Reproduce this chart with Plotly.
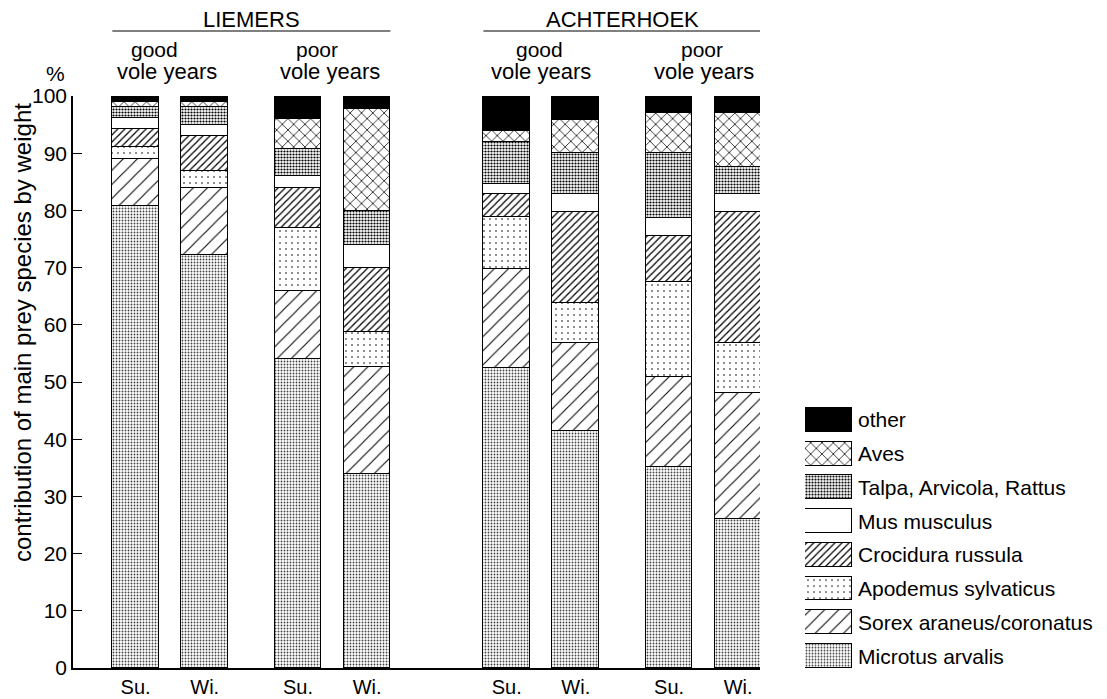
import plotly.graph_objects as go

# page is rendered with an 8px body margin
PAGE_W, PAGE_H = 1107, 699
OFF = 8
W, H = PAGE_W - OFF, PAGE_H - OFF

# ---------------- data ----------------
regions = ["LIEMERS", "ACHTERHOEK"]
vole_years = ["good", "poor"]
seasons = ["Su.", "Wi."]

# bar order: LIEMERS good Su, Wi | LIEMERS poor Su, Wi | ACHTERHOEK good Su, Wi | ACHTERHOEK poor Su, Wi
microtus = [80.8, 72.2, 54.0, 34.0, 52.4, 41.5, 35.1, 26.0]
sorex = [8.1, 11.8, 11.9, 18.7, 17.4, 15.4, 15.7, 22.1]
apodemus = [2.2, 2.9, 11.0, 6.0, 9.0, 6.9, 16.7, 8.8]
crocidura = [3.1, 6.1, 7.0, 11.2, 4.0, 16.0, 8.0, 22.9]
mus = [2.0, 2.0, 2.1, 4.1, 1.9, 3.0, 3.2, 3.0]
talpa = [1.8, 3.0, 4.7, 5.9, 7.3, 7.2, 11.3, 4.8]
aves = [1.0, 1.0, 5.3, 17.9, 1.8, 5.8, 7.1, 9.5]
other = [1.0, 1.0, 4.0, 2.2, 6.2, 4.2, 2.9, 2.9]

species = ["Microtus arvalis", "Sorex araneus/coronatus", "Apodemus sylvaticus",
           "Crocidura russula", "Mus musculus", "Talpa, Arvicola, Rattus", "Aves", "other"]
series = [microtus, sorex, apodemus, crocidura, mus, talpa, aves, other]

y_ticks = [0, 10, 20, 30, 40, 50, 60, 70, 80, 90, 100]

# ---------------- layout constants ----------------
REGION_STEP = 5.37
VOLE_STEP = 2.35
BAR_W = 0.674

xs, xlabels = [], []
for r in range(len(regions)):
    for v in range(len(vole_years)):
        for s in range(len(seasons)):
            xs.append(r * REGION_STEP + v * VOLE_STEP + s)
            xlabels.append(seasons[s])

styles = {
    "Microtus arvalis": dict(shape=".", fg="#444444", size=3, sol=0.3),
    "Sorex araneus/coronatus": dict(shape="/", fg="black", size=10, sol=0.1),
    "Apodemus sylvaticus": dict(shape=".", fg="black", size=6, sol=0.06),
    "Crocidura russula": dict(shape="/", fg="black", size=5, sol=0.25),
    "Mus musculus": dict(shape="", fg="black", size=8, sol=0.1),
    "Talpa, Arvicola, Rattus": dict(shape=".", fg="black", size=3, sol=0.42),
    "Aves": dict(shape="x", fg="black", size=8, sol=0.18),
    "other": dict(shape="", fg="black", size=8, sol=0.1),
}
solid = {"other": "black"}


def px(x):
    return (x - OFF) / W


def py(y):
    return 1 - (y - OFF) / H


FONT = "Liberation Sans, Arial, Helvetica, sans-serif"


def marker_for(name):
    st = styles[name]
    m = dict(color=solid.get(name, "white"), line=dict(color="black", width=1.5))
    if st["shape"]:
        m["pattern"] = dict(shape=st["shape"], fgcolor=st["fg"], bgcolor="white",
                            size=st["size"], solidity=st["sol"])
    return m


fig = go.Figure()

for name, vals in zip(species, series):
    fig.add_trace(go.Bar(
        x=xs, y=vals, width=BAR_W, name=name, showlegend=False,
        marker=marker_for(name), xaxis="x", yaxis="y", hoverinfo="skip",
    ))

# custom legend: one swatch bar per species on a separate small axis
for name in species:
    fig.add_trace(go.Bar(
        y=[name], x=[1], base=0, orientation="h", width=0.71,
        showlegend=False, hoverinfo="skip", marker=marker_for(name),
        xaxis="x2", yaxis="y2",
    ))

annotations = []
for n in species:
    annotations.append(dict(x=1, y=n, xref="x2", yref="y2", text=n, showarrow=False,
                            xanchor="left", yanchor="middle", xshift=4,
                            font=dict(size=21, family=FONT, color="black")))

# y axis title and %
annotations.append(dict(x=px(22), y=py(333), xref="paper", yref="paper",
                        text="contribution of main prey species by weight", textangle=-90,
                        showarrow=False, xanchor="center", yanchor="middle", borderpad=0,
                        font=dict(size=24, family=FONT, color="black")))
annotations.append(dict(x=px(55), y=py(73), xref="paper", yref="paper", text="%",
                        showarrow=False, xanchor="center", yanchor="middle",
                        font=dict(size=21, family=FONT, color="black")))

shapes = []
for r, reg in enumerate(regions):
    first = xs[r * 4] - BAR_W / 2
    last = xs[r * 4 + 3] + BAR_W / 2
    annotations.append(dict(x=(first + last) / 2, y=py(19), xref="x", yref="paper", text=reg,
                            showarrow=False, xanchor="center", yanchor="middle", borderpad=0,
                            font=dict(size=22, family=FONT, color="black")))
    shapes.append(dict(type="line", xref="x", yref="paper", x0=first, x1=last,
                       y0=py(31), y1=py(31), line=dict(color="black", width=1.2)))
    for v, vy in enumerate(vole_years):
        c = (xs[r * 4 + v * 2] + xs[r * 4 + v * 2 + 1]) / 2
        shift = -16 if r == 0 else -2
        annotations.append(dict(x=c, y=py(49), xref="x", yref="paper", text=vy,
                                showarrow=False, xanchor="center", yanchor="middle", xshift=shift,
                                font=dict(size=21, family=FONT, color="black")))
        annotations.append(dict(x=c, y=py(72), xref="x", yref="paper", text="vole years",
                                showarrow=False, xanchor="center", yanchor="middle",
                                xshift=(-3 if r == 0 else 0),
                                font=dict(size=22, family=FONT, color="black")))

fig.update_layout(
    width=W, height=H, template="none",
    paper_bgcolor="white", plot_bgcolor="rgba(0,0,0,0)",
    margin=dict(l=0, r=0, t=0, b=0),
    barmode="stack", bargap=0,
    font=dict(family=FONT, color="black"),
    xaxis=dict(domain=[px(73), px(760)], range=[-0.906, 9.036],
               tickvals=xs, ticktext=xlabels, ticks="", showgrid=False, zeroline=False,
               showline=True, linecolor="black", linewidth=1.5,
               tickfont=dict(size=20, family=FONT, color="black"), automargin=False,
               fixedrange=True),
    yaxis=dict(domain=[py(668), py(96)], range=[0, 100], tickvals=y_ticks,
               ticks="inside", ticklen=9, tickwidth=1.3, tickcolor="black",
               showgrid=False, zeroline=False, showline=True, linecolor="black",
               linewidth=1.5, tickfont=dict(size=21, family=FONT, color="black"),
               automargin=False, fixedrange=True),
    xaxis2=dict(domain=[px(805), 1.0], range=[0, (OFF + W - 805) / 47], anchor="y2",
                visible=False, fixedrange=True),
    yaxis2=dict(domain=[py(672.9), py(403.1)], range=[-0.5, 7.5], anchor="x2",
                type="category", categoryorder="array", categoryarray=species,
                visible=False, fixedrange=True),
    annotations=annotations,
    shapes=shapes,
)

fig.write_html("out.html")
